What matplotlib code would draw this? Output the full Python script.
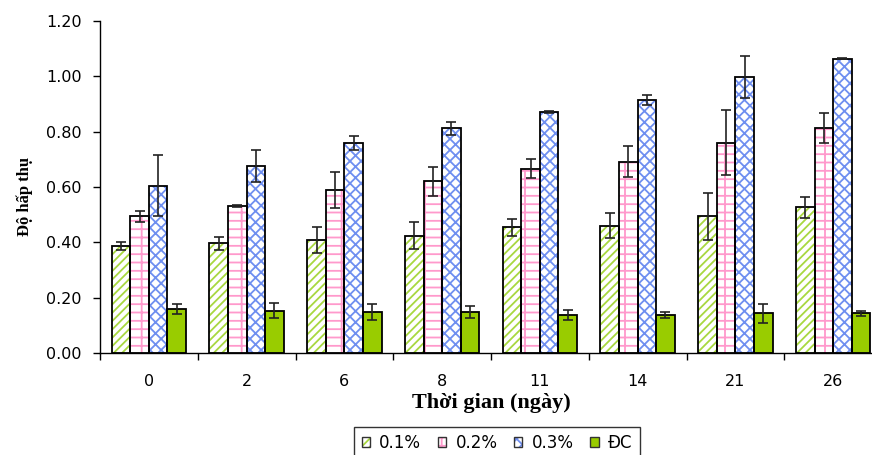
import matplotlib.pyplot as plt
from matplotlib.legend_handler import HandlerTuple
import numpy as np

# Data
days = ['0', '2', '6', '8', '11', '14', '21', '26']
series = ['0.1%', '0.2%', '0.3%', 'ĐC']
c01 = [0.387, 0.396, 0.407, 0.424, 0.454, 0.460, 0.495, 0.527]
c02 = [0.495, 0.531, 0.589, 0.620, 0.666, 0.691, 0.760, 0.812]
c03 = [0.605, 0.676, 0.759, 0.812, 0.870, 0.914, 0.997, 1.064]
dc = [0.159, 0.153, 0.148, 0.148, 0.138, 0.137, 0.143, 0.143]
e01 = [0.015, 0.022, 0.047, 0.049, 0.031, 0.045, 0.085, 0.038]
e02 = [0.020, 0.003, 0.066, 0.052, 0.034, 0.056, 0.117, 0.054]
e03 = [0.110, 0.057, 0.026, 0.024, 0.004, 0.017, 0.075, 0.001]
edc = [0.018, 0.026, 0.030, 0.023, 0.019, 0.012, 0.034, 0.010]

values = [c01, c02, c03, dc]
errors = [e01, e02, e03, edc]
faces = ['white', 'white', 'white', '#99CC00']
hatch_colors = ['#A8D840', '#FF99CC', '#6F8FF0', '#99CC00']
hatches = ['////', '--|', 'xxx', None]

plt.rcParams['font.family'] = ['DejaVu Sans']
plt.rcParams['hatch.linewidth'] = 1.3
serif = ['Liberation Serif', 'DejaVu Serif']

fig = plt.figure(figsize=(8.72, 4.55), dpi=100)
ax = fig.add_axes([100 / 872, 102 / 455, 782 / 872, 332 / 455])

x = np.arange(len(days))
width = 0.19
offsets = (np.arange(4) - 1.5) * width

handles = []
for i in range(4):
    pos = x + offsets[i]
    # hatch layer (hatch takes the edge colour)
    ax.bar(pos, values[i], width, color=faces[i], edgecolor=hatch_colors[i],
           hatch=hatches[i], linewidth=0, zorder=2)
    # black outline layer
    ax.bar(pos, values[i], width, fill=False, edgecolor='black',
           linewidth=1.3, zorder=3)
    ax.errorbar(pos, values[i], yerr=errors[i], fmt='none', ecolor='#222222',
                elinewidth=1.2, capsize=3.6, capthick=1.2, zorder=4)
    h_fill = plt.Rectangle((0, 0), 1, 1, facecolor=faces[i], edgecolor=hatch_colors[i],
                           hatch=hatches[i], linewidth=0)
    h_edge = plt.Rectangle((0, 0), 1, 1, fill=False, edgecolor='#333333', linewidth=1)
    handles.append((h_fill, h_edge))

ax.set_xlim(-0.5, len(days) - 0.5)
ax.set_ylim(0, 1.2)
ax.set_yticks(np.arange(0, 1.21, 0.2))
ax.set_yticklabels([f'{v:.2f}' for v in np.arange(0, 1.21, 0.2)], fontsize=11.5)
ax.set_xticks(x)
ax.set_xticklabels(days, fontsize=11.5)
ax.set_xticks(np.arange(len(days)) - 0.5, minor=True)
ax.tick_params(axis='x', which='major', length=0, pad=15)
ax.tick_params(axis='x', which='minor', length=5, width=1, direction='out')
ax.tick_params(axis='y', length=5, width=1, direction='out', pad=8)

ax.spines['top'].set_visible(False)
ax.spines['right'].set_visible(False)
ax.spines['left'].set_linewidth(1)
ax.spines['bottom'].set_linewidth(1)

ax.set_ylabel('Độ hấp thụ', fontsize=12, fontweight='bold', family=serif)
ax.yaxis.set_label_coords(-0.086, 0.473)
ax.set_xlabel('Thời gian (ngày)', fontsize=16, fontweight='bold', family=serif)
ax.xaxis.label.set_va('center')
ax.xaxis.set_label_coords(0.501, -0.151)

# Legend at bottom, box partly cut by the image edge as in the original
leg = fig.legend(handles, series, handler_map={tuple: HandlerTuple(ndivide=1)},
                 loc='center', bbox_to_anchor=(497 / 872, 1 - 443 / 455),
                 ncol=4, frameon=True, fancybox=False, edgecolor='black',
                 fontsize=12, handlelength=0.5, handleheight=0.5, handletextpad=0.55,
                 columnspacing=1.0, borderpad=0.45, borderaxespad=0)
leg.get_frame().set_linewidth(1)

fig.savefig('out.png', dpi=100, facecolor='white')
